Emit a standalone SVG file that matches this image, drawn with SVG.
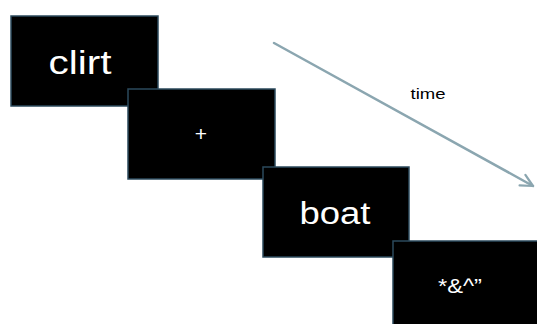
<svg xmlns="http://www.w3.org/2000/svg" width="537" height="324" viewBox="0 0 537 324">
<defs>
<style>
.box{fill:#000;stroke:#2b4a5c;stroke-width:1.5}
.t{fill:#fff;font-family:"Liberation Sans",Arial,sans-serif;text-anchor:middle}
.lbl{fill:#000;font-family:"Liberation Sans",Arial,sans-serif;text-anchor:middle}
.conn{stroke:#8ba6b0;stroke-width:2.5;fill:none;stroke-linecap:round}
</style>
<marker id="ah" viewBox="0 0 10 10" refX="9" refY="5" markerWidth="6" markerHeight="6" orient="auto" markerUnits="strokeWidth">
<path d="M1,1 L9,5 L1,9" fill="none" stroke="#8ba6b0" stroke-width="1.5" stroke-linecap="round" stroke-linejoin="round"/>
</marker>
</defs>
<rect width="537" height="324" fill="#fff"/>
<g id="connectors">
<line class="conn" x1="274" y1="43" x2="533" y2="186" marker-end="url(#ah)"/>
<text class="lbl" x="428" y="99" font-size="15" textLength="35" lengthAdjust="spacingAndGlyphs">time</text>
</g>
<g id="n1">
<rect class="box" x="11" y="16" width="147" height="90"/>
<text class="t" x="80" y="74" font-size="33" textLength="63" lengthAdjust="spacingAndGlyphs">clirt</text>
</g>
<g id="n2">
<rect class="box" x="128" y="89" width="147" height="90"/>
<text class="t" x="201" y="141" font-size="21">+</text>
</g>
<g id="n3">
<rect class="box" x="263" y="167" width="146" height="90"/>
<text class="t" x="335" y="224" font-size="31" textLength="71" lengthAdjust="spacingAndGlyphs">boat</text>
</g>
<g id="n4">
<rect class="box" x="393" y="241" width="150" height="90"/>
<text class="t" x="460" y="293" font-size="20" textLength="44" lengthAdjust="spacingAndGlyphs">*&amp;^”</text>
</g>
</svg>
